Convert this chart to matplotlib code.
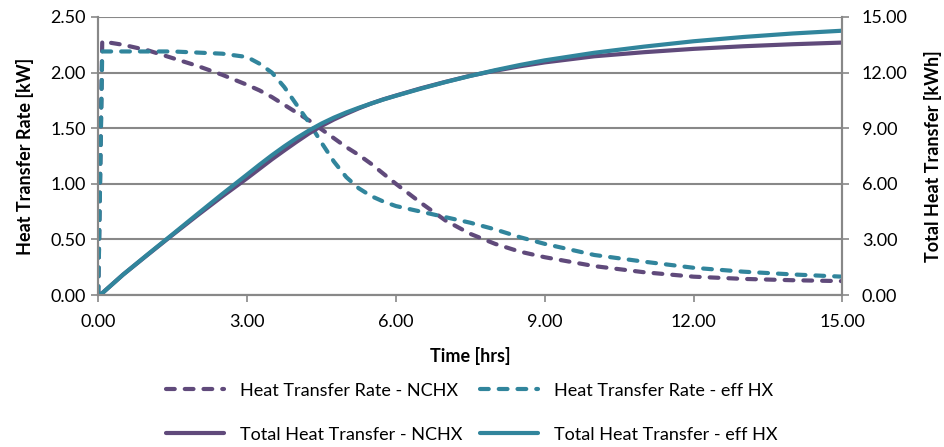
import matplotlib
matplotlib.use("Agg")
import matplotlib.pyplot as plt

plt.rcParams['font.family'] = ['Lato', 'DejaVu Sans']

# Time grid [hrs]
time_hrs = [0, 0.08, 0.5, 1, 1.5, 2, 2.5, 3, 3.25, 3.5, 3.75, 4, 4.25, 4.5,
            4.75, 5, 5.25, 5.5, 5.75, 6, 6.5, 7, 7.5, 8, 8.5, 9, 10, 11, 12,
            13, 14, 15]

# Heat transfer rate [kW]
rate_nchx = [0, 2.28, 2.25, 2.20, 2.13, 2.06, 1.98, 1.89, 1.84, 1.78, 1.71,
             1.64, 1.57, 1.49, 1.41, 1.33, 1.26, 1.18, 1.09, 1.00, 0.83,
             0.67, 0.55, 0.46, 0.39, 0.34, 0.26, 0.205, 0.165, 0.145, 0.133,
             0.125]
rate_eff = [0, 2.19, 2.19, 2.19, 2.19, 2.18, 2.17, 2.14, 2.08, 2.00, 1.87,
            1.71, 1.55, 1.37, 1.20, 1.06, 0.96, 0.89, 0.84, 0.80, 0.75, 0.70,
            0.65, 0.59, 0.52, 0.46, 0.36, 0.30, 0.245, 0.21, 0.185, 0.165]

# Total heat transfer [kWh]
total_nchx = [0, 0.1, 1.1, 2.18, 3.25, 4.3, 5.32, 6.3, 6.81, 7.32, 7.8, 8.27,
              8.72, 9.12, 9.47, 9.78, 10.07, 10.33, 10.56, 10.76, 11.15,
              11.5, 11.83, 12.1, 12.34, 12.55, 12.88, 13.1, 13.28, 13.42,
              13.53, 13.62]
total_eff = [0, 0.1, 1.1, 2.2, 3.28, 4.37, 5.45, 6.5, 7.03, 7.54, 8.02, 8.47,
             8.88, 9.25, 9.57, 9.85, 10.1, 10.33, 10.55, 10.75, 11.13, 11.49,
             11.82, 12.13, 12.41, 12.66, 13.07, 13.4, 13.69, 13.92, 14.11,
             14.26]

x_ticks = [0, 3, 6, 9, 12, 15]
left_ticks = [0, 0.5, 1.0, 1.5, 2.0, 2.5]
right_ticks = [0, 3, 6, 9, 12, 15]

PURPLE = '#604A7B'
TEAL = '#31859C'
GRID = '#888888'
FS = 13

fig = plt.figure(figsize=(9.44, 4.47), dpi=100)
ax = fig.add_axes([0.1041, 0.340, 0.7882, 0.622])
ax2 = ax.twinx()

dash_kw = dict(lw=3, dashes=(2.1, 2.4), dash_capstyle='round')
l1, = ax.plot(time_hrs, rate_nchx, color=PURPLE, **dash_kw,
              label='Heat Transfer Rate - NCHX')
l2, = ax.plot(time_hrs, rate_eff, color=TEAL, **dash_kw,
              label='Heat Transfer Rate - eff HX')
l3, = ax2.plot(time_hrs, total_nchx, color=PURPLE, lw=3,
               solid_capstyle='round', label='Total Heat Transfer - NCHX')
l4, = ax2.plot(time_hrs, total_eff, color=TEAL, lw=3,
               solid_capstyle='round', label='Total Heat Transfer - eff HX')

ax.set_xlim(0, 15)
ax.set_ylim(0, 2.5)
ax2.set_ylim(0, 15)
ax.set_xticks(x_ticks)
ax.set_xticklabels([f'{v:.2f}' for v in x_ticks])
ax.set_yticks(left_ticks)
ax.set_yticklabels([f'{v:.2f}' for v in left_ticks])
ax2.set_yticks(right_ticks)
ax2.set_yticklabels([f'{v:.2f}' for v in right_ticks])

ax.yaxis.grid(True, color=GRID, lw=1.5)
ax.set_axisbelow(True)

for a in (ax, ax2):
    a.spines['top'].set_visible(False)
    for side in ('left', 'right', 'bottom'):
        a.spines[side].set_color(GRID)
        a.spines[side].set_linewidth(1.5)
    a.tick_params(colors=GRID, labelcolor='black', labelsize=FS,
                  width=1.2, length=5, direction='out')
ax.tick_params(axis='x', pad=9)
ax.tick_params(axis='y', pad=4)
ax2.tick_params(axis='y', pad=9)

ax.set_xlabel('Time [hrs]', fontsize=FS, fontweight='bold', labelpad=12)
ax.set_ylabel('Heat Transfer Rate [kW]', fontsize=FS,
              fontweight='bold', labelpad=12)
ax2.set_ylabel('Total Heat Transfer [kWh]', fontsize=FS,
               fontweight='bold', labelpad=12)

# Rates on the first row, totals on the second
fig.legend(handles=[l1, l3, l2, l4], loc='center', ncol=2,
           bbox_to_anchor=(0.5, 0.077), frameon=False, fontsize=FS,
           handlelength=3.2, handletextpad=0.9, columnspacing=1.0,
           labelspacing=1.55)

fig.savefig('out.png', dpi=100)
